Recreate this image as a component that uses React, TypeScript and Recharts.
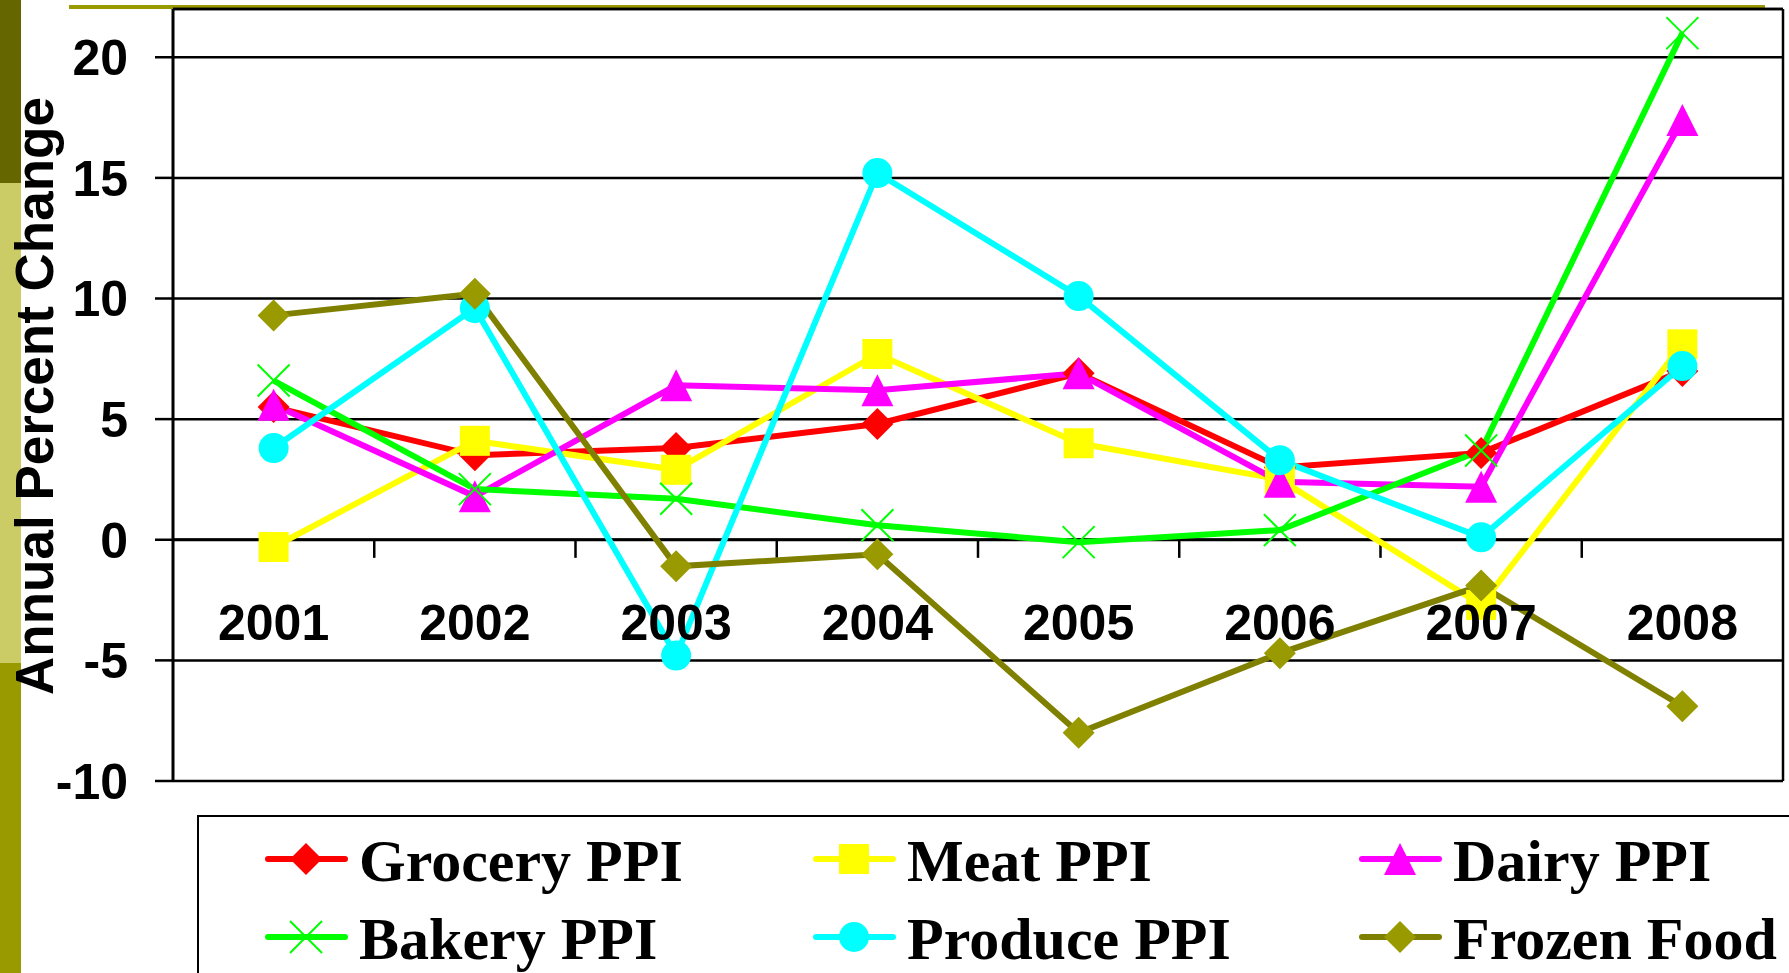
import React from "react";
import { LineChart, Line, XAxis, YAxis, CartesianGrid, ReferenceLine } from "recharts";

// values
const YEARS = ["2001", "2002", "2003", "2004", "2005", "2006", "2007", "2008"];
const GROCERY = [5.5, 3.5, 3.8, 4.8, 6.9, 3.0, 3.6, 7.0];
const MEAT = [-0.3, 4.1, 2.9, 7.7, 4.0, 2.5, -2.7, 8.1];
const DAIRY = [5.6, 1.8, 6.4, 6.2, 6.9, 2.4, 2.2, 17.4];
const BAKERY = [6.6, 2.1, 1.7, 0.6, -0.1, 0.4, 3.7, 21.0];
const PRODUCE = [3.8, 9.6, -4.8, 15.2, 10.1, 3.3, 0.1, 7.2];
const FROZEN = [9.3, 10.2, -1.1, -0.6, -8.0, -4.7, -1.9, -6.9];
const Y_TICKS = [-10, -5, 0, 5, 10, 15, 20];
const Y_DOMAIN: [number, number] = [-10, 22];

const SERIES = [
	{ key: "grocery", name: "Grocery PPI", values: GROCERY, line: "#ff0000", fill: "#ff0000", marker: "diamond" },
	{ key: "meat", name: "Meat PPI", values: MEAT, line: "#ffff00", fill: "#ffff00", marker: "square" },
	{ key: "dairy", name: "Dairy PPI", values: DAIRY, line: "#ff00ff", fill: "#ff00ff", marker: "triangle" },
	{ key: "bakery", name: "Bakery PPI", values: BAKERY, line: "#00ff00", fill: "#00ff00", marker: "x" },
	{ key: "produce", name: "Produce PPI", values: PRODUCE, line: "#00ffff", fill: "#00ffff", marker: "circle" },
	{ key: "frozen", name: "Frozen Food", values: FROZEN, line: "#808000", fill: "#999900", marker: "diamond" },
];

// x sits in the middle of each year slot, slot edges are whole numbers
const data = YEARS.map((year, i) => {
	const row: Record<string, number | string> = { x: i + 0.5, year };
	SERIES.forEach((s) => {
		row[s.key] = s.values[i];
	});
	return row;
});
const X_TICKS = YEARS.map((_, i) => i + 0.5);
const SLOT_EDGES = YEARS.map((_, i) => i + 1).slice(0, -1);

const SANS = '"Liberation Sans", Arial, sans-serif';
const SERIF = '"Liberation Serif", "Times New Roman", serif';

function Marker({ kind, cx, cy, fill }: { kind: string; cx: number; cy: number; fill: string }) {
	if (cx == null || cy == null) return null;
	switch (kind) {
		case "diamond":
			return <polygon points={`${cx},${cy - 16} ${cx + 16},${cy} ${cx},${cy + 16} ${cx - 16},${cy}`} fill={fill} />;
		case "square":
			return <rect x={cx - 15} y={cy - 15} width={30} height={30} fill={fill} />;
		case "triangle":
			return <polygon points={`${cx},${cy - 16} ${cx + 16},${cy + 16} ${cx - 16},${cy + 16}`} fill={fill} />;
		case "circle":
			return <circle cx={cx} cy={cy} r={15} fill={fill} />;
		default:
			return (
				<path
					d={`M${cx - 16},${cy - 16}L${cx + 16},${cy + 16}M${cx + 16},${cy - 16}L${cx - 16},${cy + 16}`}
					stroke={fill}
					strokeWidth={2}
					fill="none"
				/>
			);
	}
}

// year labels hang just under the zero line, not at the bottom of the plot
const YearTick = (props: any) => {
	const { x, y, payload } = props;
	return (
		<text x={x} y={y} dy={-141} textAnchor="middle" fill="#000" fontSize={50} fontWeight={700} fontFamily={SANS}>
			{YEARS[Math.floor(payload.value)]}
		</text>
	);
};

const LEGEND_COL_X = [268, 816, 1362];
const LEGEND_ROW_Y = [861, 939];

export default function App() {
	return (
		<div style={{ position: "absolute", left: 0, top: 0, width: 1789, height: 973, background: "#fff", overflow: "hidden" }}>
			{/* slide decoration */}
			<div style={{ position: "absolute", left: 0, top: 0, width: 21, height: 183, background: "#666600" }} />
			<div style={{ position: "absolute", left: 0, top: 183, width: 21, height: 480, background: "#cccc66" }} />
			<div style={{ position: "absolute", left: 0, top: 663, width: 21, height: 310, background: "#999900" }} />
			<div style={{ position: "absolute", left: 69, top: 5, width: 1696, height: 4, background: "#999900" }} />

			<div style={{ position: "absolute", left: 0, top: 0 }}>
				<LineChart
					width={1789}
					height={973}
					data={data}
					margin={{ top: 9, right: 6, bottom: 191, left: 0 }}
					style={{ fontFamily: SANS }}
				>
					<CartesianGrid vertical={false} stroke="#000" strokeWidth={2.5} />
					<XAxis
						dataKey="x"
						type="number"
						domain={[0, YEARS.length]}
						ticks={X_TICKS}
						axisLine={false}
						tickLine={false}
						tickSize={0}
						tickMargin={0}
						height={1}
						interval={0}
						tick={<YearTick />}
					/>
					<YAxis
						type="number"
						domain={Y_DOMAIN}
						ticks={Y_TICKS}
						width={173}
						interval={0}
						axisLine={{ stroke: "#000", strokeWidth: 3 }}
						tickLine={{ stroke: "#000", strokeWidth: 2.5 }}
						tickSize={18}
						tickMargin={27}
						tick={{ fill: "#000", fontSize: 50, fontWeight: 700, fontFamily: SANS }}
					/>
					<ReferenceLine y={Y_DOMAIN[1]} stroke="#000" strokeWidth={2.5} />
					<ReferenceLine x={YEARS.length} stroke="#000" strokeWidth={2.5} />
					<ReferenceLine y={0} stroke="#000" strokeWidth={3} />
					{SLOT_EDGES.map((e) => (
						<ReferenceLine
							key={e}
							segment={[
								{ x: e, y: 0 },
								{ x: e, y: -0.75 },
							]}
							stroke="#000"
							strokeWidth={2.5}
						/>
					))}
					{SERIES.map((s) => (
						<Line
							key={s.key}
							type="linear"
							dataKey={s.key}
							stroke={s.line}
							strokeWidth={6}
							isAnimationActive={false}
							activeDot={false}
							dot={(p: any) => <Marker key={`${s.key}-${p.index}`} kind={s.marker} cx={p.cx} cy={p.cy} fill={s.fill} />}
						/>
					))}
				</LineChart>
			</div>

			<svg width={1789} height={973} style={{ position: "absolute", left: 0, top: 0, pointerEvents: "none" }}>
				<text
					transform="translate(53, 396) rotate(-90)"
					textAnchor="middle"
					fill="#000"
					fontSize={53}
					fontWeight={700}
					fontFamily={SANS}
				>
					Annual Percent Change
				</text>

				<rect x={198} y={816} width={1700} height={300} fill="#fff" stroke="#000" strokeWidth={2} />
				{SERIES.map((s, i) => {
					const x0 = LEGEND_COL_X[i % 3];
					const y0 = LEGEND_ROW_Y[Math.floor(i / 3)];
					return (
						<g key={s.key}>
							<line x1={x0} y1={y0 - 2} x2={x0 + 77} y2={y0 - 2} stroke={s.line} strokeWidth={6} strokeLinecap="round" />
							<Marker kind={s.marker} cx={x0 + 38} cy={y0 - 2} fill={s.fill} />
							<text x={x0 + 91} y={y0 + 20} fill="#000" fontSize={60} fontWeight={700} fontFamily={SERIF}>
								{s.name}
							</text>
						</g>
					);
				})}
			</svg>
		</div>
	);
}
